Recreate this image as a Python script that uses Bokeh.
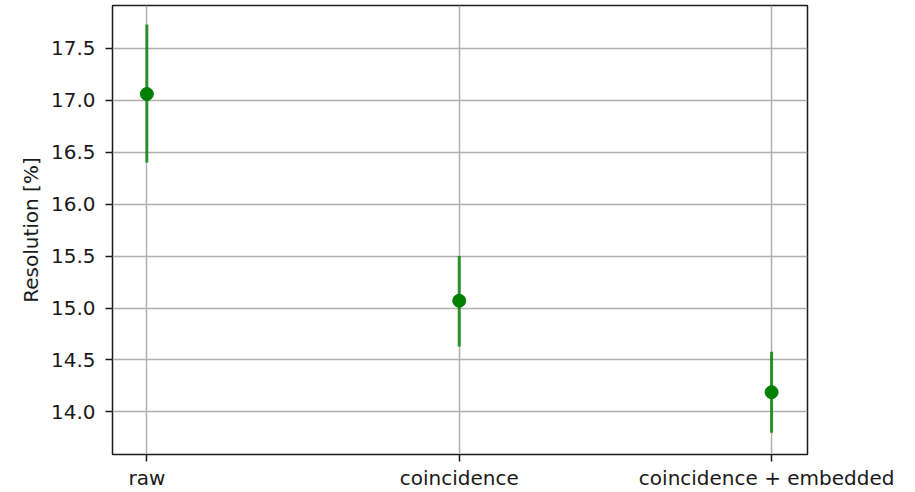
from bokeh.plotting import figure
from bokeh.models import Range1d, FixedTicker, ColumnDataSource
from bokeh.embed import file_html
from bokeh.resources import INLINE

categories = ["raw", "coincidence", "coincidence + embedded"]
resolution = [17.06, 15.07, 14.19]
err_low = [16.40, 14.63, 13.80]
err_high = [17.73, 15.50, 14.58]
y_ticks = [14.0, 14.5, 15.0, 15.5, 16.0, 16.5, 17.0, 17.5]

xs = list(range(len(categories)))
src = ColumnDataSource(dict(x=xs, y=resolution, lo=err_low, hi=err_high))

p = figure(width=894, height=492, output_backend="svg", toolbar_location=None,
           x_range=Range1d(-0.11, 2.115), y_range=Range1d(13.59, 17.912),
           min_border_left=112, min_border_right=87, min_border_top=5, min_border_bottom=36)

p.segment(x0="x", y0="lo", x1="x", y1="hi", source=src, line_color="green", line_alpha=0.8, line_width=3)
p.scatter(x="x", y="y", source=src, size=13, fill_color="green", line_color="green")

font = "DejaVu Sans"
txt = "#1a1a1a"
fs = "20px"
for ax in (p.xaxis[0], p.yaxis[0]):
    ax.major_label_text_font = font
    ax.major_label_text_font_size = fs
    ax.major_label_text_color = txt
    ax.axis_line_color = None
    ax.major_tick_line_color = txt
    ax.major_tick_line_width = 1.5
    ax.major_tick_out = 7
    ax.major_tick_in = 0
    ax.minor_tick_line_color = None

p.xaxis.ticker = FixedTicker(ticks=xs)
p.xaxis.major_label_overrides = {i: c for i, c in enumerate(categories)}
p.xaxis.major_label_standoff = 4
p.yaxis.ticker = FixedTicker(ticks=y_ticks)
p.yaxis.major_label_overrides = {t: f"{t:.1f}" for t in y_ticks}
p.yaxis.major_label_standoff = 10
p.yaxis.axis_label = "Resolution [%]"
p.yaxis.axis_label_text_font = font
p.yaxis.axis_label_text_font_size = fs
p.yaxis.axis_label_text_font_style = "normal"
p.yaxis.axis_label_text_color = txt
p.yaxis.axis_label_standoff = 5

p.xgrid.grid_line_color = "#b0b0b0"
p.ygrid.grid_line_color = "#b0b0b0"
p.xgrid.grid_line_width = 1.5
p.ygrid.grid_line_width = 1.5
p.xgrid.ticker = FixedTicker(ticks=xs)
p.ygrid.ticker = FixedTicker(ticks=y_ticks)

p.outline_line_color = txt
p.outline_line_width = 1.5
p.outline_line_alpha = 1
p.background_fill_color = "white"
p.border_fill_color = "white"

open("out.html", "w").write(file_html(p, INLINE))
